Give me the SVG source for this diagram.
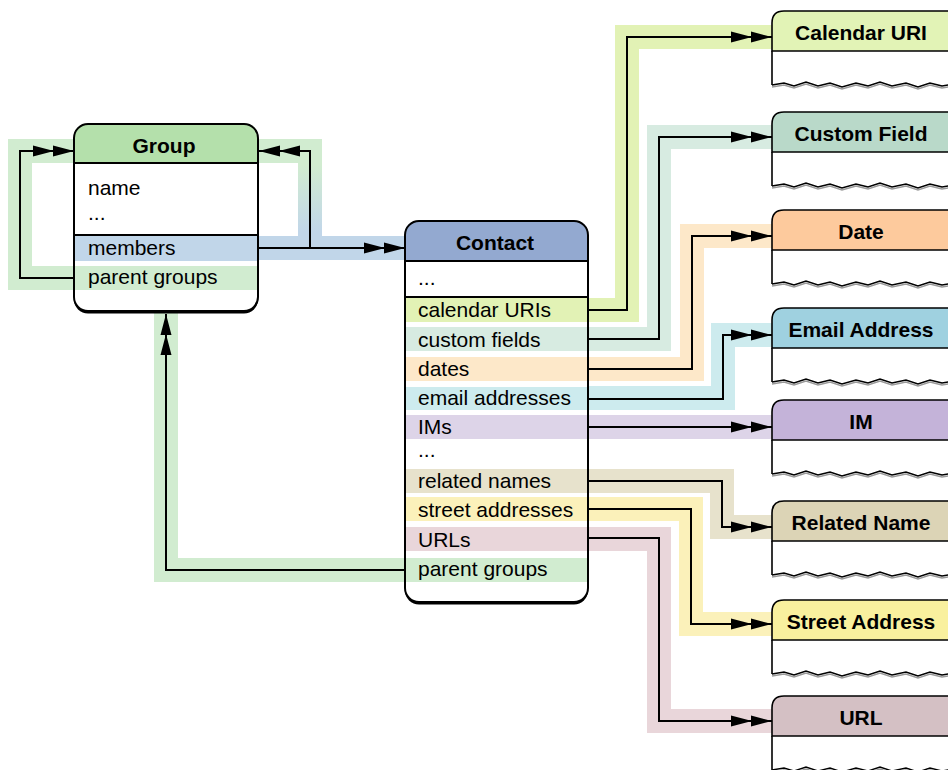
<svg xmlns="http://www.w3.org/2000/svg" width="948" height="770" viewBox="0 0 948 770">
<defs>
<style>
text{font-family:"Liberation Sans",Arial,Helvetica,sans-serif;font-size:21px;fill:#000}
.h{font-weight:bold;text-anchor:middle}
.band{fill:none;stroke-width:24;stroke-linejoin:miter;stroke-linecap:butt}
.ln{fill:none;stroke:#000;stroke-width:2;marker-end:url(#dbl)}
.bx{fill:none;stroke:#000;stroke-width:2}
.sep{stroke:#000;stroke-width:2}
.ent{stroke:#000;stroke-width:1.6}
.lb{stroke:#000;stroke-width:1.6;fill:none}
.wv{fill:none;stroke:#000;stroke-width:1.4;stroke-linejoin:miter}
.ws{fill:none;stroke:#9a9a9a;stroke-width:1.6}
</style>
<marker id="dbl" markerUnits="userSpaceOnUse" markerWidth="44" markerHeight="12" refX="41" refY="6" orient="auto" overflow="visible">
<path d="M0,0.5 L21,6 L0,11.5 Z M20,0.5 L41,6 L20,11.5 Z" fill="#000"/>
</marker>
<linearGradient id="loopg" gradientUnits="userSpaceOnUse" x1="0" y1="165" x2="0" y2="232">
<stop offset="0" stop-color="#d1ecd0"/>
<stop offset="1" stop-color="#c1d6e9"/>
</linearGradient>
<path id="wave" d="M0,0 L12,-2 L22,1 L34,-3 L46,1 L58,-2 L70,2 L84,-2 L96,1 L108,-3 L120,1 L134,-2 L146,2 L158,-2 L170,1 L182,-1"/>
</defs>
<rect width="948" height="770" fill="#fff"/>

<g id="connectors">
<path class="band" stroke="#d1ecd0" d="M74,278 H20 V151 H74"/>
<path class="band" stroke="url(#loopg)" d="M310,248 V151 H258"/>
<path class="band" stroke="#c1d6e9" d="M258,248 H405"/>
<path class="band" stroke="#d1ecd0" d="M405,570 H166 V311"/>
<path class="band" stroke="#e2f2b5" d="M588,310 H627 V37 H772"/>
<path class="band" stroke="#d7ebe1" d="M588,339 H659 V137 H772"/>
<path class="band" stroke="#fde8c9" d="M588,369 H692 V236 H772"/>
<path class="band" stroke="#cdebee" d="M588,398 H723 V335 H772"/>
<path class="band" stroke="#ddd4e8" d="M588,427 H772"/>
<path class="band" stroke="#e7e2cc" d="M588,481 H722 V527 H772"/>
<path class="band" stroke="#fbf1ba" d="M588,509 H691 V624 H772"/>
<path class="band" stroke="#e9d6da" d="M588,539 H659 V721 H772"/>

<path class="ln" d="M74,278 H20 V151 H74"/>
<path class="ln" d="M310,248 V151 H259"/>
<path class="ln" d="M258,248 H405"/>
<path class="ln" d="M405,570 H166 V314"/>
<path class="ln" d="M588,310 H627 V37 H772"/>
<path class="ln" d="M588,339 H659 V137 H772"/>
<path class="ln" d="M588,369 H692 V236 H772"/>
<path class="ln" d="M588,399 H723 V335 H772"/>
<path class="ln" d="M588,427 H772"/>
<path class="ln" d="M588,481 H722 V527 H772"/>
<path class="ln" d="M588,509 H691 V624 H772"/>
<path class="ln" d="M588,538 H659 V721 H772"/>
</g>

<g id="group">
<rect x="74" y="126.5" width="184" height="187" rx="14" fill="#000"/>
<rect x="74" y="124" width="184" height="187" rx="14" fill="#fff"/>
<path d="M74,163 V138 Q74,124 88,124 H244 Q258,124 258,138 V163 Z" fill="#b4e0ab"/>
<rect x="74" y="236" width="184" height="25" fill="#c1d6e9"/>
<rect x="74" y="266" width="184" height="24" fill="#d1ecd0"/>
<line class="sep" x1="74" y1="163" x2="258" y2="163"/>
<line class="sep" x1="74" y1="235" x2="258" y2="235"/>
<rect class="bx" x="74" y="124" width="184" height="187" rx="14"/>
<text class="h" x="164" y="153">Group</text>
<text x="88" y="195">name</text>
<text x="88" y="220">...</text>
<text x="88" y="255">members</text>
<text x="88" y="284">parent groups</text>
</g>

<g id="contact">
<rect x="405" y="223.5" width="183" height="381" rx="14" fill="#000"/>
<rect x="405" y="221" width="183" height="381" rx="14" fill="#fff"/>
<path d="M405,261 V235 Q405,221 419,221 H574 Q588,221 588,235 V261 Z" fill="#93a9d0"/>
<rect x="405" y="298" width="183" height="24" fill="#e2f2b5"/>
<rect x="405" y="327" width="183" height="24" fill="#d7ebe1"/>
<rect x="405" y="357" width="183" height="24" fill="#fde8c9"/>
<rect x="405" y="387" width="183" height="23" fill="#cdebee"/>
<rect x="405" y="415" width="183" height="24" fill="#ddd4e8"/>
<rect x="405" y="469" width="183" height="24" fill="#e7e2cc"/>
<rect x="405" y="497" width="183" height="24" fill="#fbf1ba"/>
<rect x="405" y="527" width="183" height="24" fill="#e9d6da"/>
<rect x="405" y="558" width="183" height="24" fill="#d1ecd0"/>
<line class="sep" x1="405" y1="261" x2="588" y2="261"/>
<line class="sep" x1="405" y1="297" x2="588" y2="297"/>
<rect class="bx" x="405" y="221" width="183" height="381" rx="14"/>
<text class="h" x="495" y="250">Contact</text>
<text x="418" y="285">...</text>
<text x="418" y="317">calendar URIs</text>
<text x="418" y="347">custom fields</text>
<text x="418" y="376">dates</text>
<text x="418" y="405">email addresses</text>
<text x="418" y="434">IMs</text>
<text x="418" y="457">...</text>
<text x="418" y="488">related names</text>
<text x="418" y="517">street addresses</text>
<text x="418" y="547">URLs</text>
<text x="418" y="576">parent groups</text>
</g>

<g id="calendar-uri">
<path class="ent" d="M772,51 V23 Q772,11 784,11 H952 V51 Z" fill="#e2f3b6"/>
<line class="lb" x1="772" y1="51" x2="772" y2="85"/>
<use href="#wave" x="772" y="87" class="ws"/>
<use href="#wave" x="772" y="85" class="wv"/>
<text class="h" x="861" y="40">Calendar URI</text>
</g>
<g id="custom-field">
<path class="ent" d="M772,152 V124 Q772,112 784,112 H952 V152 Z" fill="#b9d9c9"/>
<line class="lb" x1="772" y1="152" x2="772" y2="186"/>
<use href="#wave" x="772" y="188" class="ws"/>
<use href="#wave" x="772" y="186" class="wv"/>
<text class="h" x="861" y="141">Custom Field</text>
</g>
<g id="date">
<path class="ent" d="M772,250 V222 Q772,210 784,210 H952 V250 Z" fill="#fdca9d"/>
<line class="lb" x1="772" y1="250" x2="772" y2="284"/>
<use href="#wave" x="772" y="286" class="ws"/>
<use href="#wave" x="772" y="284" class="wv"/>
<text class="h" x="861" y="239">Date</text>
</g>
<g id="email-address">
<path class="ent" d="M772,348 V320 Q772,308 784,308 H952 V348 Z" fill="#9fd1e0"/>
<line class="lb" x1="772" y1="348" x2="772" y2="382"/>
<use href="#wave" x="772" y="384" class="ws"/>
<use href="#wave" x="772" y="382" class="wv"/>
<text class="h" x="861" y="337">Email Address</text>
</g>
<g id="im">
<path class="ent" d="M772,440 V412 Q772,400 784,400 H952 V440 Z" fill="#c4b3d9"/>
<line class="lb" x1="772" y1="440" x2="772" y2="474"/>
<use href="#wave" x="772" y="476" class="ws"/>
<use href="#wave" x="772" y="474" class="wv"/>
<text class="h" x="861" y="429">IM</text>
</g>
<g id="related-name">
<path class="ent" d="M772,541 V513 Q772,501 784,501 H952 V541 Z" fill="#dcd4b6"/>
<line class="lb" x1="772" y1="541" x2="772" y2="575"/>
<use href="#wave" x="772" y="577" class="ws"/>
<use href="#wave" x="772" y="575" class="wv"/>
<text class="h" x="861" y="530">Related Name</text>
</g>
<g id="street-address">
<path class="ent" d="M772,640 V612 Q772,600 784,600 H952 V640 Z" fill="#f9f09e"/>
<line class="lb" x1="772" y1="640" x2="772" y2="674"/>
<use href="#wave" x="772" y="676" class="ws"/>
<use href="#wave" x="772" y="674" class="wv"/>
<text class="h" x="861" y="629">Street Address</text>
</g>
<g id="url">
<path class="ent" d="M772,736 V708 Q772,696 784,696 H952 V736 Z" fill="#d4c0c4"/>
<line class="lb" x1="772" y1="736" x2="772" y2="770"/>
<use href="#wave" x="772" y="772" class="ws"/>
<use href="#wave" x="772" y="770" class="wv"/>
<text class="h" x="861" y="725">URL</text>
</g>
</svg>
